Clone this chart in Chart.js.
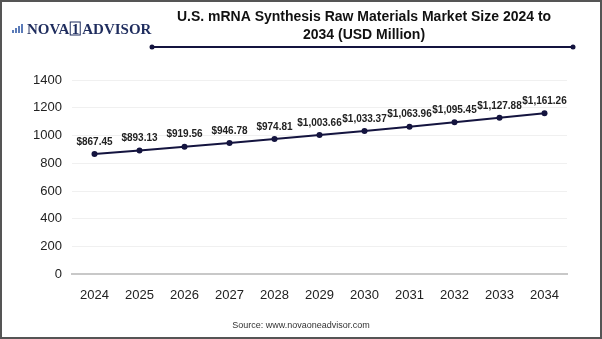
<!DOCTYPE html>
<html>
<head>
<meta charset="utf-8">
<script src="https://cdn.jsdelivr.net/npm/chart.js@4.4.1/dist/chart.umd.min.js"></script>
<style>
  html, body { margin: 0; padding: 0; background: #fff; }
  #wrap { width: 602px; height: 339px; position: relative; }
</style>
</head>
<body>
<div id="wrap"><canvas id="chart" width="602" height="339"></canvas></div>
<script>
let years = ['2024', '2025', '2026', '2027', '2028', '2029', '2030', '2031', '2032', '2033', '2034']
let marketSize = [867.45, 893.13, 919.56, 946.78, 974.81, 1003.66, 1033.37, 1063.96, 1095.45, 1127.88, 1161.26]
let titleLines = ['U.S. mRNA Synthesis Raw Materials Market Size 2024 to', '2034 (USD Million)']
let sourceText = 'Source: www.novaoneadvisor.com'

const navy = '#14143f'

function money(v) {
  return '$' + v.toLocaleString('en-US', { minimumFractionDigits: 2, maximumFractionDigits: 2 })
}

// header, logo, frame, source
const decor = {
  id: 'decor',
  beforeDraw(chart) {
    const c = chart.ctx
    c.save()
    c.fillStyle = '#fff'
    c.fillRect(0, 0, chart.width, chart.height)
    c.restore()
  },
  afterDraw(chart) {
    const c = chart.ctx
    c.save()
    // title
    c.fillStyle = '#111'
    c.font = 'bold 14px "Liberation Sans", Arial, sans-serif'
    c.textAlign = 'center'
    c.textBaseline = 'middle'
    c.fillText(titleLines[0], 364, 17)
    c.fillText(titleLines[1], 364, 35)

    // line under title
    c.strokeStyle = navy
    c.lineWidth = 2
    c.beginPath()
    c.moveTo(152, 47)
    c.lineTo(573, 47)
    c.stroke()
    c.fillStyle = navy
    for (const x of [152, 573]) {
      c.beginPath()
      c.arc(x, 47, 2.5, 0, Math.PI * 2)
      c.fill()
    }

    // logo
    c.fillStyle = '#5b7bb8'
    const bars = [3, 5, 7, 9]
    bars.forEach((h, i) => c.fillRect(12 + i * 3, 33 - h, 2, h))
    c.fillStyle = '#1f2d5e'
    c.font = 'bold 15px "Liberation Serif", "DejaVu Serif", serif'
    c.textAlign = 'left'
    c.textBaseline = 'alphabetic'
    c.fillText('NOVA', 27, 34)
    let w = c.measureText('NOVA').width
    c.strokeStyle = '#1f2d5e'
    c.lineWidth = 1
    c.strokeRect(27 + w + 1, 22, 10, 13)
    c.fillText('1', 27 + w + 2.5, 34)
    c.fillText('ADVISOR', 27 + w + 13, 34)

    // source
    c.fillStyle = '#333'
    c.font = '9px "Liberation Sans", Arial, sans-serif'
    c.textAlign = 'center'
    c.textBaseline = 'middle'
    c.fillText(sourceText, 301, 326)

    // frame
    c.strokeStyle = '#555'
    c.lineWidth = 2
    c.strokeRect(1, 1, chart.width - 2, chart.height - 2)
    c.restore()
  }
}

// value labels above the points
const valueLabels = {
  id: 'valueLabels',
  afterDatasetsDraw(chart) {
    const c = chart.ctx
    const meta = chart.getDatasetMeta(0)
    c.save()
    c.fillStyle = '#222'
    c.font = 'bold 10px "Liberation Sans", Arial, sans-serif'
    c.textAlign = 'center'
    c.textBaseline = 'middle'
    meta.data.forEach((pt, i) => {
      c.fillText(money(marketSize[i]), pt.x, pt.y - 12)
    })
    c.restore()
  }
}

const config = {
  type: 'line',
  data: {
    labels: years,
    datasets: [{
      data: marketSize,
      borderColor: navy,
      backgroundColor: navy,
      borderWidth: 2,
      pointRadius: 3,
      pointBackgroundColor: navy,
      pointBorderWidth: 0,
      tension: 0
    }]
  },
  options: {
    responsive: false,
    animation: false,
    layout: { padding: { top: 80, right: 35, bottom: 31, left: 0 } },
    plugins: {
      legend: { display: false },
      title: { display: false },
      tooltip: { enabled: false }
    },
    scales: {
      x: {
        offset: true,
        grid: { display: false },
        border: { color: '#c8c8c8', width: 2 },
        ticks: {
          color: '#222',
          font: { size: 13, family: '"Liberation Sans", Arial, sans-serif' },
          padding: 5,
          maxRotation: 0
        }
      },
      y: {
        min: 0,
        max: 1400,
        ticks: {
          stepSize: 200,
          color: '#222',
          font: { size: 13, family: '"Liberation Sans", Arial, sans-serif' },
          padding: 10,
          callback: (v) => String(v)
        },
        grid: { color: '#f0f0f0', drawTicks: false },
        border: { display: false },
        afterFit(scale) { scale.width = 72 }
      }
    }
  },
  plugins: [decor, valueLabels]
}

const chart = new Chart(document.getElementById('chart'), config)
</script>
</body>
</html>
